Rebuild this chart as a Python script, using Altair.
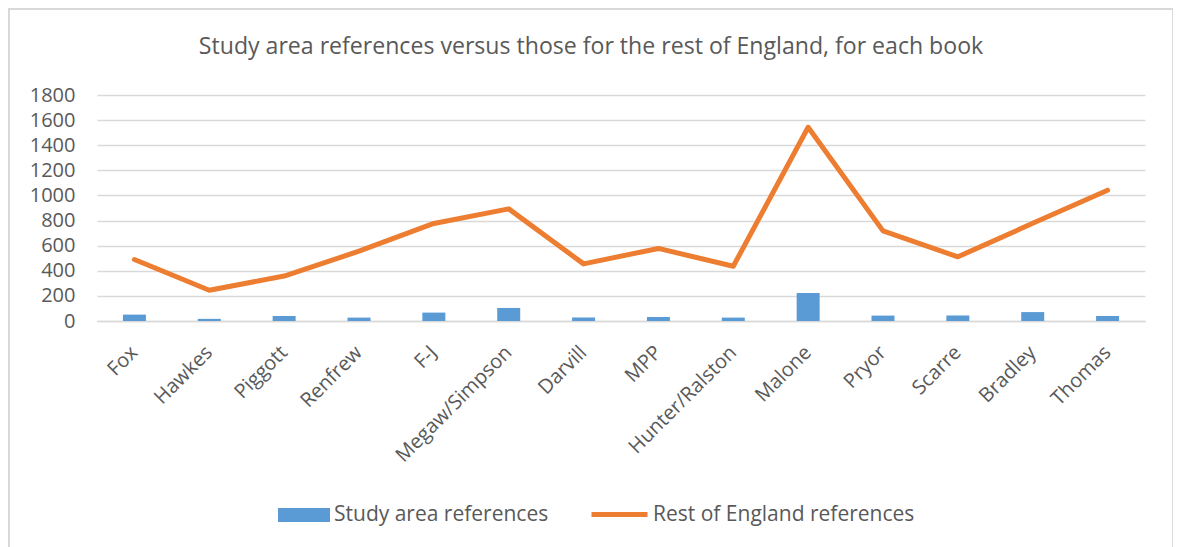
import altair as alt
import pandas as pd

books = ["Fox", "Hawkes", "Piggott", "Renfrew", "F-J", "Megaw/Simpson", "Darvill",
         "MPP", "Hunter/Ralston", "Malone", "Pryor", "Scarre", "Bradley", "Thomas"]
study_area = [51, 17, 40, 27, 67, 104, 28, 32, 27, 223, 43, 44, 71, 40]
rest_of_england = [490, 245, 358, 556, 777, 893, 455, 578, 436, 1543, 718, 511, 778, 1042]

S1 = "Study area references"
S2 = "Rest of England references"

df = pd.DataFrame({
    "Book": books,
    "Study": study_area,
    "Rest": rest_of_england,
    "s1": [S1] * len(books),
    "s2": [S2] * len(books),
})

FONT = "Open Sans"
TXT = "#595959"
GRID = "#d9d9d9"

W, H = 1048, 226

xenc = alt.X("Book:N", sort=books, title=None,
             scale=alt.Scale(paddingInner=0, paddingOuter=0),
             axis=alt.Axis(labelAngle=-45, labelFontSize=20, labelColor=TXT, labelFont=FONT,
                           ticks=False, domainColor=GRID, domainWidth=1.5, labelPadding=21,
                           labelOffset=-7))

yscale = alt.Scale(domain=[0, 1800])
yaxis = alt.Axis(values=list(range(0, 1801, 200)), format="d", labelFontSize=20,
                 labelColor=TXT, labelFont=FONT, ticks=False, domain=False,
                 gridColor=GRID, gridWidth=1.5, labelPadding=22)

bars = alt.Chart(df).mark_bar(size=23).encode(
    x=xenc,
    y=alt.Y("Study:Q", scale=yscale, axis=yaxis, title=None),
    color=alt.Color("s1:N", scale=alt.Scale(range=["#5b9bd5"]), title=None,
                    legend=alt.Legend(orient="none", legendX=181, legendY=394,
                                      symbolType="M-1,-0.27H1V0.27H-1Z", symbolSize=2704,
                                      symbolStrokeWidth=0, labelFontSize=21, labelColor=TXT,
                                      labelFont=FONT, labelOffset=4, padding=0)),
)

line = alt.Chart(df).mark_line(strokeWidth=5, strokeJoin="round", strokeCap="round").encode(
    x=xenc,
    y=alt.Y("Rest:Q", scale=yscale, axis=yaxis, title=None),
    stroke=alt.Stroke("s2:N", scale=alt.Scale(range=["#ed7d31"]), title=None,
                      legend=alt.Legend(orient="none", legendX=492, legendY=389,
                                        symbolType="stroke", symbolSize=3136,
                                        symbolStrokeWidth=5, labelFontSize=21, labelColor=TXT,
                                        labelFont=FONT, labelOffset=3, padding=0)),
)

border = alt.Chart(df).mark_rect(filled=False, stroke=GRID, strokeWidth=1.5).encode(
    x=alt.value(-88), x2=alt.value(1076), y=alt.value(-86), y2=alt.value(470)
)

chart = alt.layer(border, bars, line).properties(
    width=W, height=H,
    title=alt.TitleParams(
        "Study area references versus those for the rest of England, for each book",
        fontSize=23.1, font=FONT, color=TXT, fontWeight="normal",
        anchor="middle", dx=-30, offset=0, dy=69, baseline="alphabetic"),
    autosize=alt.AutoSizeParams(type="none"),
    padding={"left": 89, "top": 87, "right": 28, "bottom": 226},
).configure_view(stroke=None).configure_legend(labelLimit=400)

chart.save("out.html", embed_options={"renderer": "svg", "actions": False})
